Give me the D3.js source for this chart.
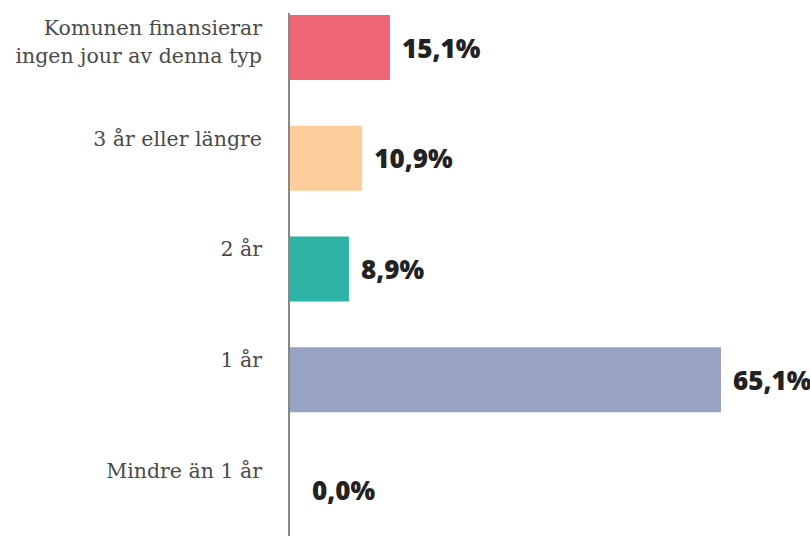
<!DOCTYPE html>
<html>
<head>
<meta charset="utf-8">
<script src="https://cdn.jsdelivr.net/npm/d3@7"></script>
<style>
  body { margin: 0; background: #fff; }
</style>
</head>
<body>
<div id="myChart"></div>
<script>
// Data
var categories = [
  ["Komunen finansierar", "ingen jour av denna typ"],
  ["3 år eller längre"],
  ["2 år"],
  ["1 år"],
  ["Mindre än 1 år"]
];
var values = [15.1, 10.9, 8.9, 65.1, 0.0];
var colors = ["#f06575", "#fdcd9b", "#2db3a6", "#98a2c1", "#cccccc"];

// Dimensions
var W = 810, H = 536;
var margin = {top: 15, left: 290};

var svg = d3.select("#myChart")
  .append("svg")
    .attr("width", W)
    .attr("height", H);

// Scales
var x = d3.scaleLinear()
  .domain([0, 100])
  .range([margin.left, margin.left + 662]);

// step ~110.75px, bar height ~65px
var y = d3.scaleBand()
  .domain(d3.range(values.length))
  .range([margin.top, margin.top + 508])
  .paddingInner(0.413)
  .paddingOuter(0);

// Bars
svg.selectAll("rect.bar")
  .data(values)
  .enter().append("rect")
    .attr("class", "bar")
    .attr("x", x(0))
    .attr("y", function(d, i) { return y(i); })
    .attr("width", function(d) { return x(d) - x(0); })
    .attr("height", y.bandwidth())
    .attr("fill", function(d, i) { return colors[i]; });

// Axis line
svg.append("line")
  .attr("x1", margin.left - 1).attr("x2", margin.left - 1)
  .attr("y1", 13).attr("y2", H)
  .attr("stroke", "#888")
  .attr("stroke-width", 2);

// Category labels
var labels = svg.selectAll("text.cat")
  .data(categories)
  .enter().append("text")
    .attr("class", "cat")
    .attr("text-anchor", "end")
    .attr("x", 262)
    .attr("y", function(d, i) { return y(i) + 20; })
    .style("font-family", "'DejaVu Serif', serif")
    .style("font-size", "20.5px")
    .attr("fill", "#4a4a4a");

labels.selectAll("tspan")
  .data(function(d) { return d; })
  .enter().append("tspan")
    .attr("x", 262)
    .attr("dy", function(d, j) { return j === 0 ? 0 : 28; })
    .text(function(d) { return d; });

// Value labels (empty bars keep a small gap from the axis)
svg.selectAll("text.val")
  .data(values)
  .enter().append("text")
    .attr("class", "val")
    .attr("x", function(d) { return Math.max(x(d), x(0) + 10) + 12; })
    .attr("y", function(d, i) { return y(i) + y.bandwidth() / 2 + 10; })
    .style("font-family", "'Open Sans', sans-serif")
    .style("font-size", "26px")
    .style("font-weight", 800)
    .attr("fill", "#222")
    .text(function(d) { return d.toFixed(1).replace(".", ",") + "%"; });
</script>
</body>
</html>
